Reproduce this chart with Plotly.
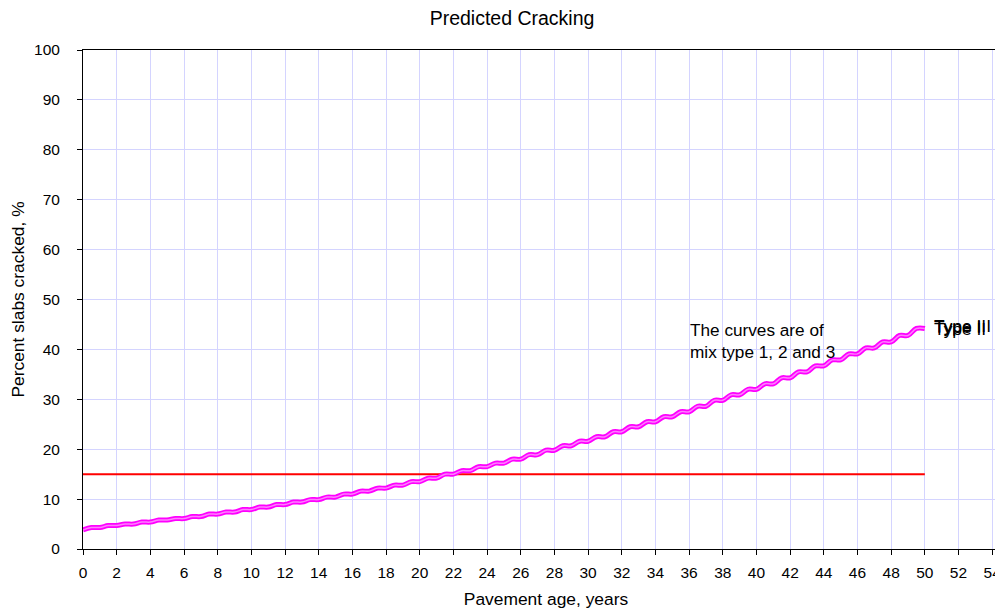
import plotly.graph_objects as go

# Predicted cracking at whole years (0..50)
years = list(range(0, 51))
cracking = [3.8, 4.3, 4.7, 5.0, 5.4, 5.8, 6.1, 6.5, 7.0, 7.4,
            7.9, 8.4, 8.9, 9.4, 9.9, 10.4, 11.0, 11.6, 12.2, 12.8,
            13.5, 14.2, 15.0, 15.7, 16.5, 17.2, 18.0, 18.9, 19.8, 20.7,
            21.6, 22.5, 23.5, 24.5, 25.5, 26.5, 27.5, 28.6, 29.8, 30.9,
            32.0, 33.1, 34.3, 35.5, 36.7, 37.9, 39.1, 40.3, 41.5, 42.8,
            44.2]

# limit line
limit_x = [0, 50]
limit_y = [15, 15]

type_labels = ["Type I", "Type II", "Type III"]
x_ticks = list(range(0, 55, 2))

# cracking grows in the first half of each year and levels off in the second
step_x, step_y = [], []
for i, t in enumerate(years):
    step_x.append(t)
    step_y.append(cracking[i])
    if i + 1 < len(years):
        step_x.append(t + 0.5)
        step_y.append(cracking[i + 1])

font = "Liberation Sans, Arial, sans-serif"
fig = go.Figure()

fig.add_trace(go.Scatter(x=limit_x, y=limit_y, mode="lines",
                         line=dict(color="#ff0000", width=2), showlegend=False))
# the three mix types overlap, outer magenta with a lighter core
fig.add_trace(go.Scatter(x=step_x, y=step_y, mode="lines", name=type_labels[0],
                         line=dict(color="#ff00ff", width=5, shape="spline", smoothing=1.1),
                         showlegend=False))
fig.add_trace(go.Scatter(x=step_x, y=step_y, mode="lines", name=type_labels[1],
                         line=dict(color="#ff80ff", width=1.5, shape="spline", smoothing=1.1),
                         showlegend=False))

# end labels, slightly offset so they overprint like the original
for k, lab in enumerate(type_labels):
    fig.add_annotation(x=years[-1], y=cracking[-1], text=lab, showarrow=False,
                       xanchor="left", yanchor="middle", xshift=7, yshift=[1, -1, 2][k],
                       font=dict(family=font, size=17.4, color="black"))

fig.add_annotation(x=35.95, y=46.2, xref="x", yref="y", text="The curves are of<br>mix type 1, 2 and 3",
                   showarrow=False, xanchor="left", yanchor="top", align="left",
                   font=dict(family=font, size=17.2, color="black"))

# the page body adds an 8px margin, so the layout is shifted up/left by that much
fig.update_layout(
    width=1003, height=615,
    paper_bgcolor="white", plot_bgcolor="white",
    margin=dict(l=75, r=2, t=42, b=74),
    title=dict(text="Predicted Cracking", x=504 / 1003, xanchor="center",
               y=1 - 3 / 615, yanchor="top",
               font=dict(family=font, size=19.5, color="black")),
    font=dict(family=font, size=15.5, color="black"),
    xaxis=dict(range=[0, 55], tickvals=x_ticks, showgrid=True, gridcolor="#d4d4ff", gridwidth=1,
               showline=True, linecolor="black", linewidth=1, mirror=True,
               ticks="outside", ticklen=5, tickcolor="black", zeroline=False,
               ticklabelstandoff=4, automargin=False,
               title=dict(text="Pavement age, years", standoff=13, font=dict(size=17.4))),
    yaxis=dict(range=[0, 100], dtick=10, showgrid=True, gridcolor="#d4d4ff", gridwidth=1,
               showline=True, linecolor="black", linewidth=1,
               ticks="outside", ticklen=5, tickcolor="black", zeroline=False,
               ticklabelstandoff=14, automargin=False,
               title=dict(text="Percent slabs cracked, %", standoff=10, font=dict(size=17.4))),
)

fig.write_html("out.html")
